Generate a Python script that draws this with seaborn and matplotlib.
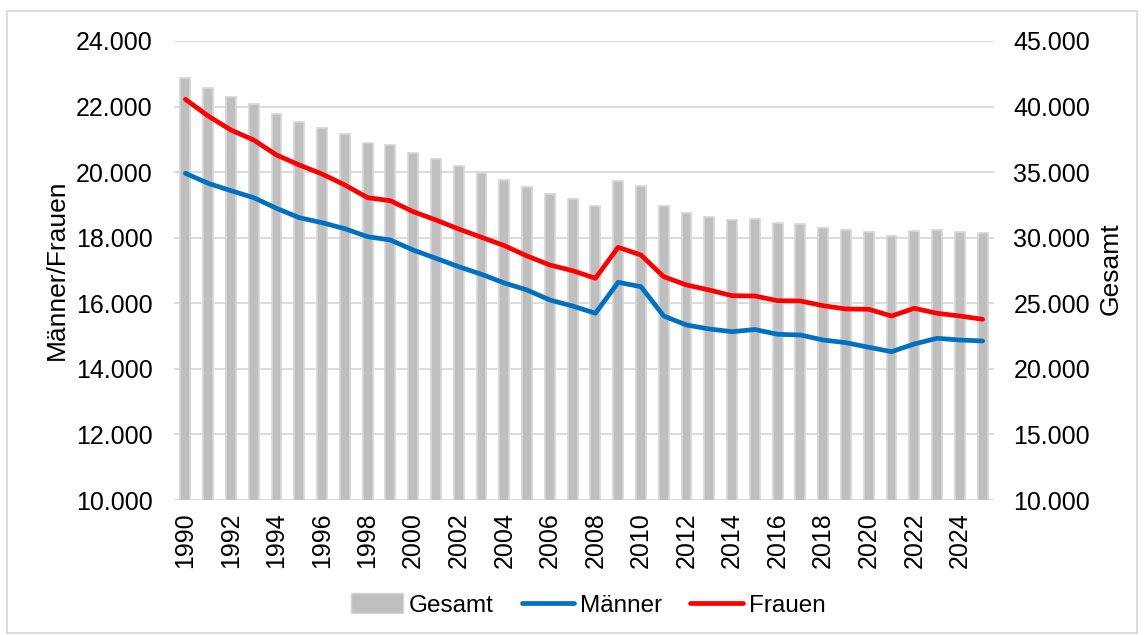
import matplotlib
matplotlib.use("Agg")
import matplotlib.pyplot as plt
import matplotlib.ticker as mticker
from matplotlib.patches import Rectangle, Patch
from matplotlib.lines import Line2D
import seaborn as sns
import pandas as pd
import numpy as np

years = list(range(1990, 2026))
gesamt = [42200, 41390, 40750, 40220, 39430, 38850, 38390, 37890, 37250, 37050,
          36460, 36000, 35450, 34910, 34370, 33890, 33330, 32930, 32420, 34350,
          33940, 32420, 31910, 31600, 31350, 31420, 31100, 31070, 30760, 30590,
          30410, 30130, 30540, 30590, 30460, 30340]
maenner = [19965, 19660, 19434, 19221, 18897, 18611, 18458, 18275, 18031, 17930,
           17625, 17372, 17116, 16884, 16620, 16405, 16100, 15917, 15695, 16640,
           16506, 15612, 15338, 15216, 15134, 15200, 15054, 15033, 14880, 14798,
           14658, 14524, 14758, 14932, 14880, 14850]
frauen = [22222, 21712, 21285, 20980, 20523, 20218, 19943, 19608, 19221, 19129,
          18794, 18540, 18266, 18013, 17760, 17442, 17168, 16994, 16762, 17708,
          17473, 16811, 16558, 16405, 16232, 16222, 16079, 16070, 15927, 15826,
          15817, 15612, 15847, 15695, 15612, 15512]

df = pd.DataFrame({"Jahr": years, "Gesamt": gesamt, "Männer": maenner, "Frauen": frauen})

sns.set_theme(style="white")
plt.rcParams["font.family"] = ["Liberation Sans", "DejaVu Sans"]
plt.rcParams["text.color"] = "black"
FS = 18
FS_LAB = 19
FS_LEG = 17.5

W, H = 1145, 635
fig = plt.figure(figsize=(W / 100, H / 100), dpi=100)
L, R, T, B = 174, 994, 41, 500
ax_bar = fig.add_axes([L / W, 1 - B / H, (R - L) / W, (B - T) / H])

bar_c = "#bfbfbf"
blue = "#0070c0"
red = "#ff0000"
grid_c = "#d9d9d9"

sns.barplot(data=df, x="Jahr", y="Gesamt", native_scale=True, width=0.43,
            color=bar_c, edgecolor="#d6d6d6", linewidth=1.2, saturation=1,
            ax=ax_bar)
ax_bar.set_ylim(10000, 45000)
ax_bar.set_yticks(np.arange(10000, 45001, 5000))
ax_bar.grid(axis="y", color=grid_c, linewidth=1.3)
ax_bar.grid(axis="x", visible=False)
ax_bar.set_axisbelow(True)

ax_line = ax_bar.twinx()
sns.lineplot(data=df, x="Jahr", y="Männer", color=blue, linewidth=3.4,
             ax=ax_line, legend=False)
sns.lineplot(data=df, x="Jahr", y="Frauen", color=red, linewidth=3.4,
             ax=ax_line, legend=False)
ax_line.set_ylim(10000, 24000)
ax_line.set_yticks(np.arange(10000, 24001, 2000))
ax_line.grid(False)

ax_bar.yaxis.tick_right()
ax_line.yaxis.tick_left()

fmt = mticker.FuncFormatter(lambda v, p: f"{int(round(v)):,}".replace(",", "."))
for a in (ax_bar, ax_line):
    a.yaxis.set_major_formatter(fmt)
    a.set_xlim(1989.5, 2025.5)
    a.set_xlabel("")
    a.set_ylabel("")
    for s in a.spines.values():
        s.set_visible(False)
    a.tick_params(axis="both", length=0, labelsize=FS, colors="black")

ax_bar.tick_params(axis="y", pad=14)
ax_line.tick_params(axis="y", pad=15.5)
ax_bar.set_xticks(years[::2])
ax_bar.set_xticklabels([str(y) for y in years[::2]], rotation=90, fontsize=FS)
ax_bar.tick_params(axis="x", pad=9)

fig.text(57 / W, 1 - 270 / H, "Männer/Frauen", rotation=90, ha="center",
         va="center", fontsize=FS_LAB, color="black")
fig.text(1111 / W, 1 - 269 / H, "Gesamt", rotation=90, ha="center",
         va="center", fontsize=FS_LAB, color="black")

handles = [Patch(facecolor=bar_c, edgecolor="#d6d6d6"),
           Line2D([], [], color=blue, linewidth=3.4),
           Line2D([], [], color=red, linewidth=3.4)]
leg = fig.legend(handles, ["Gesamt", "Männer", "Frauen"], loc="center",
                 bbox_to_anchor=(588 / W, 1 - 605 / H), ncol=3, frameon=False,
                 fontsize=FS_LEG, handlelength=2.15, handletextpad=0.25,
                 columnspacing=1.15, handleheight=0.85)
for t in leg.get_texts():
    t.set_color("black")

fig.patches.append(Rectangle((7 / W, 1 - 633 / H), (1137 - 7) / W, (633 - 11) / H,
                             transform=fig.transFigure, fill=False,
                             edgecolor=grid_c, linewidth=1.3))

fig.savefig("out.png", dpi=100)
